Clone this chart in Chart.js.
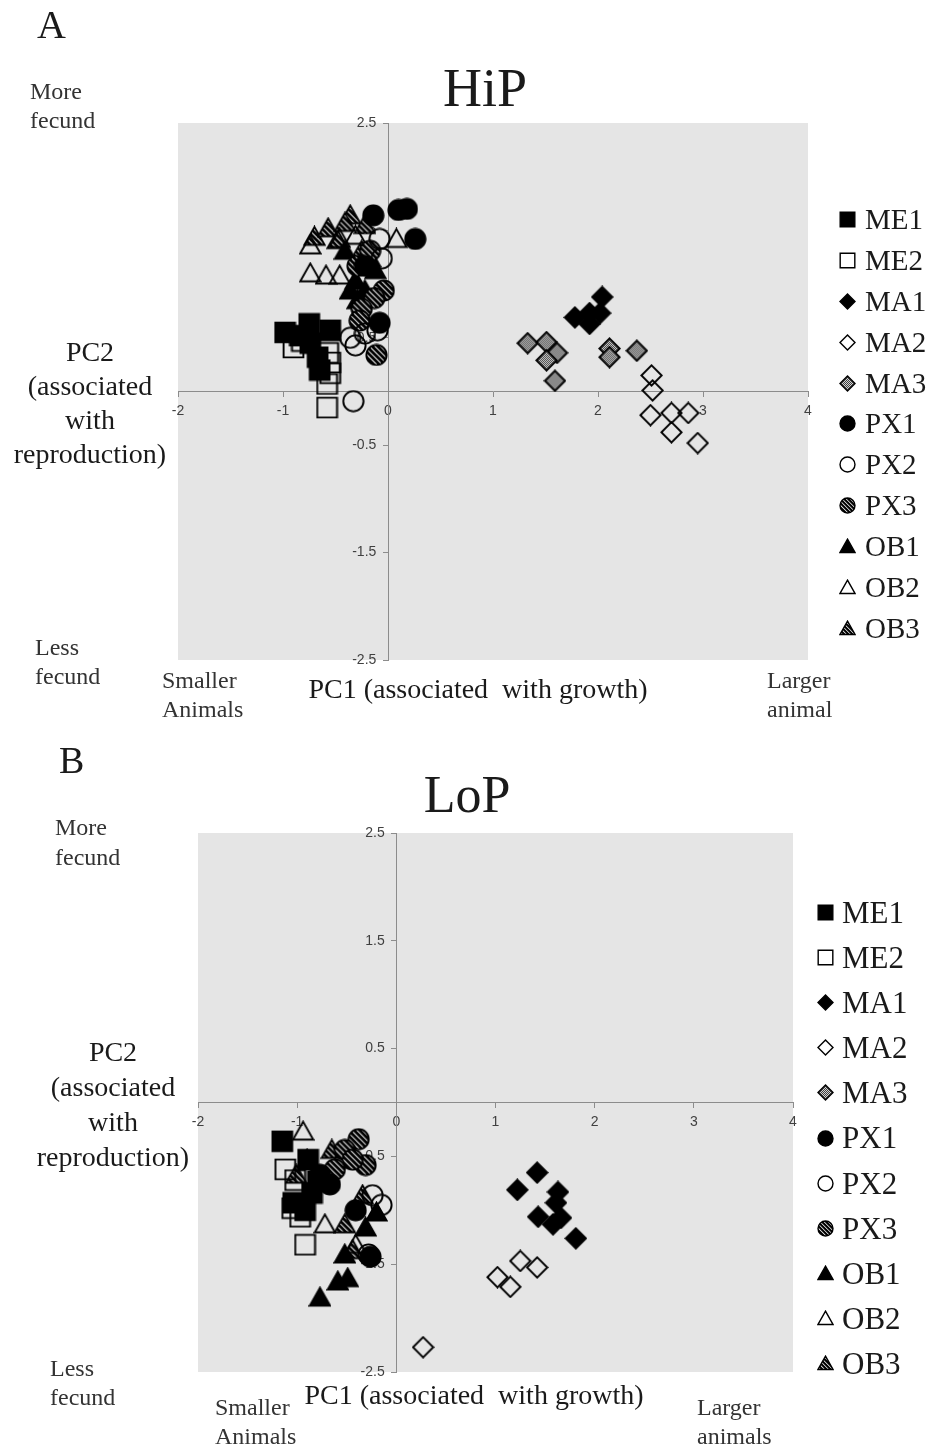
<!DOCTYPE html>
<html>
<head>
<meta charset="utf-8">
<script src="https://cdn.jsdelivr.net/npm/chart.js@4/dist/chart.umd.min.js"></script>
<style>
  body { margin: 0; background: #fff; }
  #page { position: relative; width: 937px; height: 1450px; font-family: "Liberation Serif", "Times New Roman", serif; color: #1a1a1a; overflow: hidden; }
  canvas.chart { position: absolute; left: 0; }
  .t { position: absolute; white-space: pre; }
  .c { text-align: center; }
  .leg { position: absolute; }
  .leg-row { display: flex; align-items: center; }
  .leg-row canvas { display: block; }
</style>
</head>
<body>
<div id="page">
  <canvas id="chartA" class="chart" width="937" height="730" style="top:0"></canvas>
  <canvas id="chartB" class="chart" width="937" height="720" style="top:730px"></canvas>

  <!-- panel A -->
  <div class="t" style="left:37px;top:5px;font-size:40px;line-height:40px;">A</div>
  <div class="t c" style="left:385px;width:200px;top:61px;font-size:54px;line-height:54px;">HiP</div>
  <div class="t" style="left:30px;top:77px;font-size:24px;line-height:29px;color:#333;">More
fecund</div>
  <div class="t" style="left:35px;top:633px;font-size:24px;line-height:29px;color:#333;">Less
fecund</div>
  <div class="t c" style="left:0;width:180px;top:335px;font-size:28px;line-height:34px;">PC2
(associated
with
reproduction)</div>
  <div class="t" style="left:162px;top:666px;font-size:24px;line-height:29px;color:#333;">Smaller
Animals</div>
  <div class="t c" style="left:278px;width:400px;top:672px;font-size:28px;line-height:34px;">PC1 (associated  with growth)</div>
  <div class="t" style="left:767px;top:666px;font-size:24px;line-height:29px;color:#333;">Larger
animal</div>
  <div class="leg" id="legendA" style="left:839px;top:199px;"></div>

  <!-- panel B -->
  <div class="t" style="left:59px;top:741px;font-size:38px;line-height:38px;">B</div>
  <div class="t c" style="left:367px;width:200px;top:769px;font-size:52px;line-height:52px;">LoP</div>
  <div class="t" style="left:55px;top:812px;font-size:24px;line-height:30px;color:#333;">More
fecund</div>
  <div class="t" style="left:50px;top:1354px;font-size:24px;line-height:29px;color:#333;">Less
fecund</div>
  <div class="t c" style="left:13px;width:200px;top:1034px;font-size:28px;line-height:35px;">PC2
(associated
with
reproduction)</div>
  <div class="t" style="left:215px;top:1393px;font-size:24px;line-height:29px;color:#333;">Smaller
Animals</div>
  <div class="t c" style="left:274px;width:400px;top:1378px;font-size:28px;line-height:34px;">PC1 (associated  with growth)</div>
  <div class="t" style="left:697px;top:1393px;font-size:24px;line-height:29px;color:#333;">Larger
animals</div>
  <div class="leg" id="legendB" style="left:817px;top:890px;"></div>
</div>

<script>
// series names, same for both panels
const SERIES = ['ME1', 'ME2', 'MA1', 'MA2', 'MA3', 'PX1', 'PX2', 'PX3', 'OB1', 'OB2', 'OB3'];

// ── HiP (panel A): [PC1, PC2] ─────────────────────────────
const hipME1 = [[-0.98, 0.55], [-0.75, 0.63], [-0.55, 0.57], [-0.84, 0.52], [-0.74, 0.45], [-0.67, 0.32], [-0.65, 0.20]];
const hipME2 = [[-0.90, 0.41], [-0.82, 0.47], [-0.57, 0.36], [-0.55, 0.27], [-0.55, 0.17], [-0.58, 0.07], [-0.58, -0.15]];
const hipMA1 = [[2.04, 0.88], [1.78, 0.69], [1.92, 0.73], [1.92, 0.63], [2.02, 0.73]];
const hipMA2 = [[2.51, 0.15], [2.52, 0.01], [2.50, -0.22], [2.70, -0.20], [2.86, -0.20], [2.70, -0.38], [2.95, -0.48]];
const hipMA3 = [[1.33, 0.45], [1.51, 0.46], [1.61, 0.36], [1.51, 0.29], [1.59, 0.10], [2.11, 0.40], [2.11, 0.32], [2.37, 0.38]];
const hipPX1 = [[0.10, 1.69], [0.18, 1.70], [-0.14, 1.64], [0.26, 1.42], [-0.08, 0.64], [-0.22, 1.17]];
const hipPX2 = [[-0.33, -0.09], [-0.36, 0.50], [-0.31, 0.43], [-0.22, 0.54], [-0.10, 0.57], [-0.08, 1.42], [-0.06, 1.24]];
const hipPX3 = [[-0.11, 0.34], [-0.04, 0.94], [-0.13, 0.87], [-0.25, 0.77], [-0.17, 1.31], [-0.29, 1.17], [-0.27, 0.66]];
const hipOB1 = [[-0.17, 1.24], [-0.31, 1.03], [-0.22, 0.94], [-0.12, 1.13], [-0.36, 0.94], [-0.29, 0.85], [-0.41, 1.31]];
const hipOB2 = [[-0.74, 1.10], [-0.59, 1.08], [-0.46, 1.08], [-0.74, 1.36], [-0.46, 1.42], [-0.31, 1.45], [0.08, 1.42]];
const hipOB3 = [[-0.70, 1.44], [-0.57, 1.52], [-0.36, 1.64], [-0.48, 1.41], [-0.22, 1.55], [-0.25, 1.31], [-0.41, 1.57]];

// ── LoP (panel B) ─────────────────────────────────────────
const lopME1 = [[-1.15, -0.36], [-0.89, -0.53], [-1.04, -0.93], [-0.92, -1.00], [-0.85, -0.84], [-0.79, -0.73]];
const lopME2 = [[-1.12, -0.62], [-1.02, -0.72], [-0.97, -1.06], [-0.92, -1.32], [-1.05, -0.98]];
const lopMA1 = [[1.42, -0.65], [1.22, -0.81], [1.63, -0.83], [1.61, -0.93], [1.43, -1.06], [1.58, -1.13], [1.66, -1.07], [1.81, -1.26]];
const lopMA2 = [[1.25, -1.47], [1.42, -1.53], [1.02, -1.62], [1.15, -1.71], [0.27, -2.27]];
const lopMA3 = [];
const lopPX1 = [[-0.26, -1.43], [-0.67, -0.76], [-0.77, -0.67], [-0.41, -1.00]];
const lopPX2 = [[-0.15, -0.95], [-0.24, -0.86], [-0.28, -1.41]];
const lopPX3 = [[-0.38, -0.34], [-0.52, -0.44], [-0.31, -0.58], [-0.44, -0.53], [-0.62, -0.62]];
const lopOB1 = [[-0.77, -1.81], [-0.59, -1.66], [-0.49, -1.63], [-0.20, -1.02], [-0.52, -1.41], [-0.90, -0.53], [-0.31, -1.16]];
const lopOB2 = [[-0.94, -0.27], [-0.72, -1.13], [-0.41, -1.32], [-0.57, -0.53]];
const lopOB3 = [[-1.01, -0.67], [-0.65, -0.44], [-0.52, -1.13], [-0.44, -1.37], [-0.34, -0.86]];

// axis ranges
const X_MIN = -2, X_MAX = 4, X_STEP = 1;
const Y_MIN = -2.5, Y_MAX = 2.5, Y_STEP = 1;

const MARKER_KIND = {
  ME1: ['square', 'solid'],   ME2: ['square', 'none'],
  MA1: ['diamond', 'solid'],  MA2: ['diamond', 'none'],  MA3: ['diamond', 'dots'],
  PX1: ['circle', 'solid'],   PX2: ['circle', 'none'],   PX3: ['circle', 'stripes'],
  OB1: ['triangle', 'solid'], OB2: ['triangle', 'none'], OB3: ['triangle', 'stripes'],
};

// ── Marker images ─────────────────────────────────────────
function markerPath(g, shape, s) {
  const m = s / 2;
  g.beginPath();
  if (shape === 'square') {
    const h = s * 0.43;
    g.rect(m - h, m - h, 2 * h, 2 * h);
  } else if (shape === 'diamond') {
    const r = s * 0.44;
    g.moveTo(m, m - r); g.lineTo(m + r, m); g.lineTo(m, m + r); g.lineTo(m - r, m);
    g.closePath();
  } else if (shape === 'circle') {
    g.arc(m, m, s * 0.44, 0, Math.PI * 2);
  } else {
    const w = s * 0.44;
    g.moveTo(m, m - s * 0.43); g.lineTo(m + w, m + s * 0.35); g.lineTo(m - w, m + s * 0.35);
    g.closePath();
  }
}

function makeMarker(name, s, bg) {
  const [shape, fill] = MARKER_KIND[name];
  const c = document.createElement('canvas');
  c.width = s; c.height = s;
  const g = c.getContext('2d');
  const lw = Math.max(1.4, s / 12);
  markerPath(g, shape, s);
  if (fill === 'solid') {
    g.fillStyle = '#000';
    g.fill();
  } else if (fill === 'none') {
    if (bg) { g.fillStyle = bg; g.fill(); }
  } else {
    g.save();
    g.clip();
    if (fill === 'stripes') {
      g.fillStyle = '#fff';
      g.fillRect(0, 0, s, s);
      g.strokeStyle = '#000';
      g.lineWidth = s / 8;
      const step = s / 4.2;
      for (let k = -s; k < 2 * s; k += step) {
        g.beginPath(); g.moveTo(k, 0); g.lineTo(k + s, s); g.stroke();
      }
    } else {
      g.fillStyle = '#d2d2d2';
      g.fillRect(0, 0, s, s);
      g.fillStyle = '#404040';
      for (let i = 0; i < s; i++)
        for (let j = 0; j < s; j++)
          if ((i + j) % 2 === 0) g.fillRect(i, j, 1, 1);
    }
    g.restore();
    markerPath(g, shape, s);
  }
  g.strokeStyle = '#000';
  g.lineWidth = lw;
  g.stroke();
  return c;
}

// ── Plot background plugin ────────────────────────────────
const plotBg = {
  id: 'plotBg',
  beforeDraw(chart) {
    const a = chart.chartArea;
    const ctx = chart.ctx;
    ctx.save();
    ctx.fillStyle = '#e5e5e5';
    ctx.fillRect(a.left, a.top, a.right - a.left, a.bottom - a.top);
    ctx.restore();
  },
};

const AXIS_COLOR = '#8c8c8c';
const TICK_FONT = { family: 'Liberation Sans, Arial, sans-serif', size: 14 };

function buildChart(id, seriesData, pad) {
  const datasets = SERIES.map((name, i) => ({
    label: name,
    data: seriesData[i].map(p => ({ x: p[0], y: p[1] })),
    pointStyle: makeMarker(name, 23),
    pointRadius: 11,
    pointHoverRadius: 11,
  }));

  return new Chart(document.getElementById(id), {
    type: 'scatter',
    data: { datasets },
    options: {
      responsive: false, animation: false, devicePixelRatio: 1,
      events: [],
      layout: { padding: pad },
      plugins: { legend: { display: false }, tooltip: { enabled: false } },
      scales: {
        x: {
          type: 'linear', position: { y: 0 }, min: X_MIN, max: X_MAX,
          ticks: { stepSize: X_STEP, autoSkip: false, maxRotation: 0, color: '#404040', font: TICK_FONT, padding: 6 },
          grid: { display: true, drawOnChartArea: false, drawTicks: true, tickLength: 5, color: AXIS_COLOR },
          border: { display: true, color: AXIS_COLOR, width: 1 },
          afterFit: s => { s.height = 0; },
        },
        y: {
          type: 'linear', position: { x: 0 }, min: Y_MIN, max: Y_MAX,
          // centred axis draws labels flush to the line, so pad them with spaces
          ticks: { stepSize: Y_STEP, autoSkip: false, color: '#404040', font: TICK_FONT, callback: v => v + '   ' },
          grid: { display: true, drawOnChartArea: false, drawTicks: true, tickLength: 5, color: AXIS_COLOR },
          border: { display: true, color: AXIS_COLOR, width: 1 },
          afterFit: s => { s.width = 0; },
        },
      },
    },
    plugins: [plotBg],
  });
}

// ── Legends (HTML, marker icons drawn on small canvases) ──
function renderLegend(id, rowH, fontSize, gap) {
  const el = document.getElementById(id);
  el.innerHTML = '';
  SERIES.forEach(name => {
    const row = document.createElement('div');
    row.className = 'leg-row';
    row.style.height = rowH + 'px';
    const icon = makeMarker(name, 17, '#fff');
    icon.style.marginRight = gap + 'px';
    const txt = document.createElement('span');
    txt.textContent = name;
    txt.style.fontSize = fontSize + 'px';
    txt.style.lineHeight = rowH + 'px';
    row.appendChild(icon);
    row.appendChild(txt);
    el.appendChild(row);
  });
}

buildChart('chartA',
  [hipME1, hipME2, hipMA1, hipMA2, hipMA3, hipPX1, hipPX2, hipPX3, hipOB1, hipOB2, hipOB3],
  { left: 178, right: 129, top: 123, bottom: 70 });
buildChart('chartB',
  [lopME1, lopME2, lopMA1, lopMA2, lopMA3, lopPX1, lopPX2, lopPX3, lopOB1, lopOB2, lopOB3],
  { left: 198, right: 144, top: 103, bottom: 78 });

renderLegend('legendA', 40.9, 29, 9);
renderLegend('legendB', 45.1, 31, 8);
</script>
</body>
</html>
